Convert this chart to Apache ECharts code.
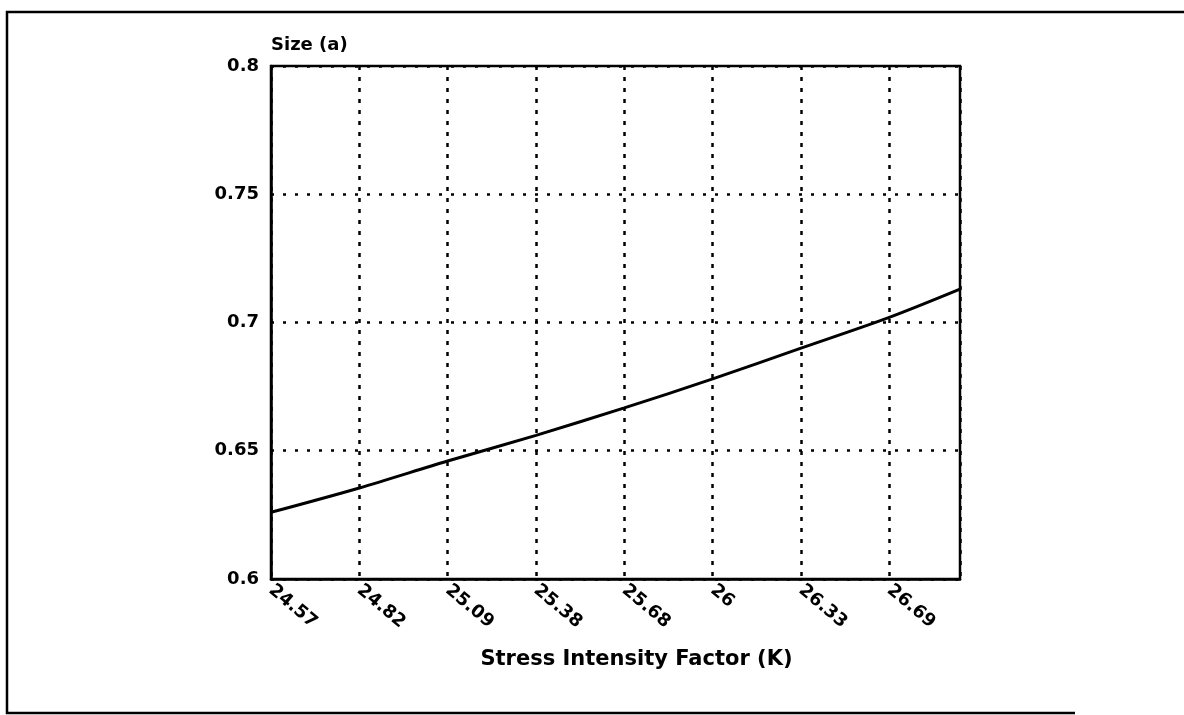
<!DOCTYPE html>
<html>
<head>
<meta charset="utf-8">
<script src="https://cdn.jsdelivr.net/npm/echarts@6/dist/echarts.min.js"></script>
<style>
  html, body { margin: 0; padding: 0; background: #fff; }
  #main { width: 1184px; height: 715px; }
</style>
</head>
<body>
<div id="main"></div>
<script>
// tick labels of the K axis (evenly spaced on the plot)
var kLabels = ['24.57', '24.82', '25.09', '25.38', '25.68', '26', '26.33', '26.69'];
// position of each sample along the axis (tick index)
var xPos = [0, 1, 2, 3, 4, 5, 6, 7, 7.8];
// crack size a read at each position
var sizeA = [0.626, 0.6355, 0.646, 0.656, 0.6667, 0.678, 0.690, 0.702, 0.713];
var yTicks = [0.6, 0.65, 0.7, 0.75, 0.8];

var lineData = xPos.map(function (x, i) { return [x, sizeA[i]]; });

var chart = echarts.init(document.getElementById('main'));
var font = '"DejaVu Sans", Arial, sans-serif';

var option = {
  backgroundColor: '#fff',
  animation: false,
  textStyle: { fontFamily: font, color: '#000' },
  grid: {
    left: 271, top: 66, right: 224, bottom: 136,
    show: true, borderColor: '#000', borderWidth: 2.5,
    containLabel: false, outerBoundsMode: 'none'
  },
  xAxis: {
    type: 'value',
    min: 0, max: 7.8, interval: 1,
    name: 'Stress Intensity Factor (K)',
    nameLocation: 'middle',
    nameGap: 70,
    nameTextStyle: { fontFamily: font, fontSize: 21, fontWeight: 'bold', color: '#000', padding: [0, 0, 0, 42] },
    axisLine: { show: true, lineStyle: { color: '#000', width: 2.5 } },
    axisTick: { show: false },
    axisLabel: {
      rotate: -40, margin: 9, fontFamily: font, fontSize: 18, color: '#000', fontWeight: 'bold',
      showMaxLabel: false,
      formatter: function (v) {
        return Number.isInteger(v) && kLabels[v] !== undefined ? kLabels[v] : '';
      }
    },
    splitLine: { show: true, lineStyle: { color: '#000', width: 2.5, type: [4, 7] } }
  },
  yAxis: {
    type: 'value',
    min: yTicks[0], max: yTicks[yTicks.length - 1], interval: 0.05,
    name: 'Size (a)',
    nameLocation: 'end',
    nameGap: 12,
    nameTextStyle: { fontFamily: font, fontSize: 18, fontWeight: 'bold', color: '#000', align: 'left' },
    axisLine: { show: true, lineStyle: { color: '#000', width: 2.5 } },
    axisTick: { show: false },
    axisLabel: {
      margin: 12, fontFamily: font, fontSize: 18, color: '#000', fontWeight: 'bold',
      formatter: function (v) { return String(+v.toFixed(2)); }
    },
    splitLine: { show: true, lineStyle: { color: '#000', width: 2.5, type: [3, 9] } }
  },
  series: [{
    type: 'line',
    data: lineData,
    smooth: 0.3,
    showSymbol: false,
    lineStyle: { color: '#000', width: 3 }
  }],
  graphic: [
    // scanned page frame
    { type: 'polyline', shape: { points: [[1184, 12], [7, 12], [7, 713], [1075, 713]] },
      style: { stroke: '#000', lineWidth: 2.5, fill: null } }
  ]
};

chart.setOption(option);
window.onresize = chart.resize;
</script>
</body>
</html>
